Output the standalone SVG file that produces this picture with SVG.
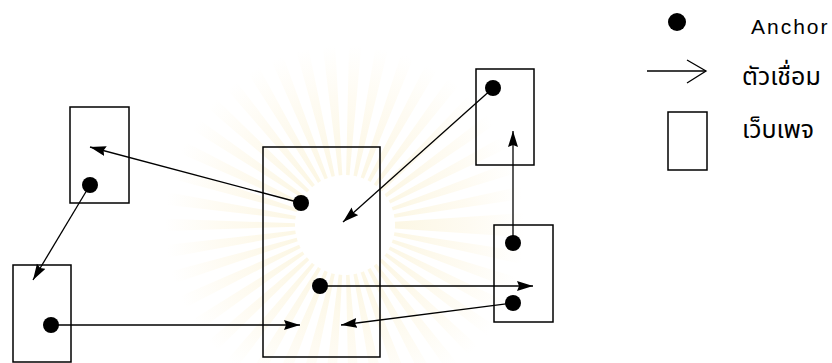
<svg xmlns="http://www.w3.org/2000/svg" width="832" height="363" viewBox="0 0 832 363">
  <style>
    .page { fill: none; stroke: #000; stroke-width: 1.5; }
    .anchor { fill: #000; }
    .link { fill: none; stroke: #000; stroke-width: 1.3; marker-end: url(#head); }
    .lbl { fill: #000; font-family: "Liberation Sans", "DejaVu Sans", sans-serif; }
    .th { fill: #000; font-family: "Noto Sans Thai", "Tahoma", "DejaVu Sans", "Noto Sans", sans-serif; }
  </style>
  <defs>
    <marker id="head" markerUnits="userSpaceOnUse" markerWidth="18" markerHeight="12" refX="16" refY="5" orient="auto">
      <path d="M0,0 L16,5 L0,10 L2,5 z" fill="#000"/>
    </marker>
    <radialGradient id="wm" gradientUnits="userSpaceOnUse" cx="345" cy="225" r="180">
      <stop offset="0.3" stop-color="#fcf7e5"/>
      <stop offset="0.7" stop-color="#fefbf2"/>
      <stop offset="1" stop-color="#ffffff"/>
    </radialGradient>
  </defs>
  <rect width="832" height="363" fill="#fff"/>

  <!-- faint watermark -->
  <g id="watermark">
    <circle cx="345" cy="225" r="115" fill="none" stroke="url(#wm)" stroke-width="130" stroke-dasharray="8 9"/>
  </g>

  <g id="page-a"><rect class="page" x="70" y="107" width="59" height="96"/><circle class="anchor" cx="90" cy="185" r="8"/></g>
  <g id="page-b"><rect class="page" x="13" y="265" width="58" height="97"/><circle class="anchor" cx="51" cy="325" r="8"/></g>
  <g id="page-c"><rect class="page" x="263" y="147" width="117" height="210"/><circle class="anchor" cx="301" cy="203" r="8"/><circle class="anchor" cx="320" cy="286" r="8"/></g>
  <g id="page-d"><rect class="page" x="476" y="69" width="58" height="96"/><circle class="anchor" cx="493" cy="88" r="8"/></g>
  <g id="page-e"><rect class="page" x="494" y="225" width="59" height="97"/><circle class="anchor" cx="513" cy="243" r="8"/><circle class="anchor" cx="513" cy="303" r="8"/></g>

  <g id="connectors">
    <line class="link" x1="301" y1="203" x2="90" y2="147"/>
    <line class="link" x1="90" y1="185" x2="33" y2="280"/>
    <line class="link" x1="51" y1="325" x2="300" y2="325"/>
    <line class="link" x1="493" y1="88" x2="343" y2="222"/>
    <line class="link" x1="513" y1="243" x2="513" y2="131"/>
    <line class="link" x1="320" y1="286" x2="533" y2="286"/>
    <line class="link" x1="513" y1="303" x2="341" y2="325"/>
  </g>

  <g id="legend">
    <g id="legend-anchor"><circle class="anchor" cx="677" cy="22" r="9"/><text class="lbl" x="751" y="34" font-size="21" letter-spacing="2">Anchor</text></g>
    <g id="legend-link"><line x1="647" y1="71" x2="706" y2="71" stroke="#000" stroke-width="1.3"/><polyline points="687,60 706,71 687,83" fill="none" stroke="#000" stroke-width="1.3"/><text class="th" x="742" y="85" font-size="25">ตัวเชื่อม</text></g>
    <g id="legend-page"><rect class="page" x="668" y="112" width="39" height="58"/><text class="th" x="742" y="138" font-size="25">เว็บเพจ</text></g>
  </g>
</svg>
